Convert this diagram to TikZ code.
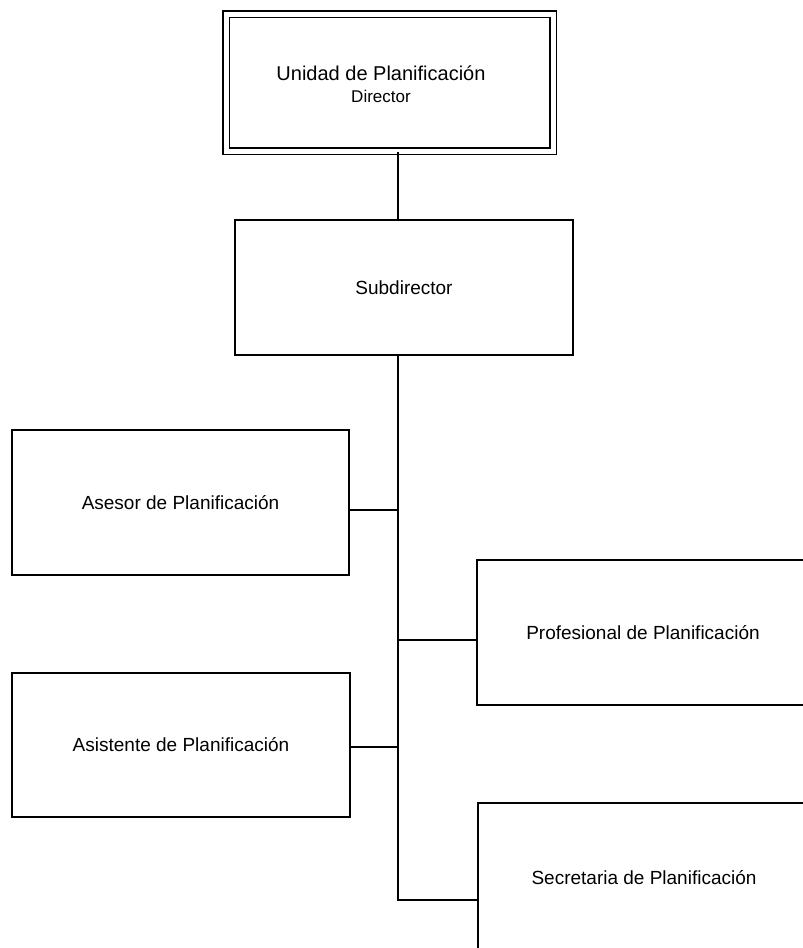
\documentclass[tikz,border=0pt]{standalone}
\usepackage{fontspec}
\setmainfont{Liberation Sans}
\usetikzlibrary{calc}
\begin{document}
\begin{tikzpicture}[x=1pt,y=-1pt,
  orgbox/.style={draw=black, line width=1.2pt, rectangle, inner sep=0pt,
                 align=center, font=\fontsize{19}{25}\selectfont},
  link/.style={draw=black, line width=1.2pt}]
\useasboundingbox (0,0) rectangle (803,948);
\clip (0,0) rectangle (803,948);

% head of the unit, framed twice
\node[orgbox, double, double distance=5pt, minimum width=327pt, minimum height=137pt]
  (dir) at (389.5,82.5) {};
\node[font=\fontsize{20}{25}\selectfont, align=center] (dirtext) at (381,84)
  {Unidad de Planificación\\[-3pt]{\fontsize{17}{20}\selectfont Director}};

% deputy
\node[orgbox, minimum width=338pt, minimum height=135pt] (sub) at (404,287.5) {Subdirector};

% staff positions
\node[orgbox, minimum width=337pt, minimum height=145pt] (ases) at (180.5,502.5) {Asesor de Planificación};
\node[orgbox, minimum width=338pt, minimum height=144pt] (asis) at (181,745) {Asistente de Planificación};
\node[orgbox, minimum width=332pt, minimum height=145pt] (prof) at (643,632.5) {Profesional de Planificación};
\node[orgbox, minimum width=332pt, minimum height=150pt] (secr) at (644,878) {Secretaria de Planificación};

% trunk and junctions
\coordinate (t) at (398,0);
\coordinate (j1) at (398,510);
\coordinate (j2) at (398,640);
\coordinate (j3) at (398,747);
\coordinate (j4) at (398,900);

\draw[link] (dir.south -| t) -- (sub.north -| t);
\draw[link] (sub.south -| t) -- (j4) -- (j4 -| secr.west);
\draw[link] (ases.east |- j1) -- (j1);
\draw[link] (j2) -- (j2 -| prof.west);
\draw[link] (asis.east |- j3) -- (j3);
\end{tikzpicture}
\end{document}
